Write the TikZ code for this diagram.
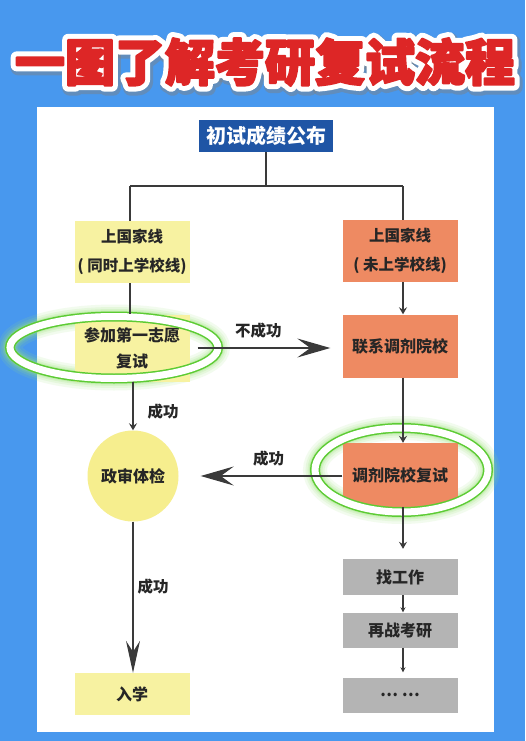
\documentclass[tikz,border=0pt]{standalone}
\usepackage{fontspec}
\newfontfamily\cjk{Noto Sans CJK SC}
\newfontfamily\titleout{Noto Sans CJK SC}[UprightFeatures={FakeBold=24}, BoldFeatures={FakeBold=24}]
\newfontfamily\titleshadow{Noto Sans CJK SC}[UprightFeatures={FakeBold=30}, BoldFeatures={FakeBold=30}]
\newfontfamily\titlein{Noto Sans CJK SC}[UprightFeatures={FakeBold=4}, BoldFeatures={FakeBold=4}]
\usetikzlibrary{arrows.meta,shapes.geometric}
\definecolor{bgblue}{HTML}{4898EE}
\definecolor{titlered}{HTML}{DD2626}
\definecolor{darkblue}{HTML}{1F55A5}
\definecolor{pyellow}{HTML}{F7F2A1}
\definecolor{cyellow}{HTML}{F6EE8E}
\definecolor{porange}{HTML}{EE8A62}
\definecolor{pgray}{HTML}{B4B4B4}
\definecolor{lineg}{HTML}{3A3A3A}
\definecolor{hgreen}{HTML}{5CCB33}
\definecolor{glowg}{HTML}{9BE57A}
\begin{document}
\begin{tikzpicture}[x=1pt,y=-1pt,
  txt/.style={font=\cjk\bfseries\fontsize{16}{28}\selectfont, text=black!85, align=center},
  ybox/.style={txt, fill=pyellow, minimum width=115pt, inner sep=0pt},
  obox/.style={txt, fill=porange, minimum width=115pt, inner sep=0pt},
  gbox/.style={txt, fill=pgray, minimum width=115pt, inner sep=0pt},
  conn/.style={draw=lineg, line width=1.1pt},
  small/.style={conn, -{Stealth[length=7pt,width=8pt,inset=2.5pt]}},
  bigh/.style={conn, -{Stealth[length=33pt,width=19pt,inset=13pt]}},
  bigv/.style={conn, -{Stealth[length=32pt,width=14pt,inset=11pt]}},
  lbl/.style={font=\cjk\bfseries\fontsize{15.5}{16}\selectfont, text=black!85},
  ttl/.style={inner sep=0pt}
]
\fill[bgblue] (0,0) rectangle (525,741);
\useasboundingbox (0,0) rectangle (525,741);
\fill[white] (37,107) rectangle (494,732);

% title
\begin{scope}[line join=round, line cap=round]
\node[ttl, font=\titleshadow\bfseries\fontsize{50}{50}\selectfont, text=black!50, opacity=0.45] (tshadow) at (266.5,64.5) {一图了解考研复试流程};
\node[ttl, font=\titleout\bfseries\fontsize{50}{50}\selectfont, text=white] (tout) at (265,62) {一图了解考研复试流程};
\node[ttl, font=\titlein\bfseries\fontsize{50}{50}\selectfont, text=titlered] (title) at (265,62) {一图了解考研复试流程};
\end{scope}

% highlight ellipses (glow)
\foreach \w/\o in {24/0.12,19/0.15,15/0.2,12/0.3}{
  \draw[glowg, line width=\w pt, opacity=\o] (114,347.5) ellipse [x radius=104, y radius=31];
  \draw[glowg, line width=\w pt, opacity=\o] (401.5,470) ellipse [x radius=86.5, y radius=42];
}

% nodes
\node[txt, font=\cjk\bfseries\fontsize{20}{24}\selectfont, fill=darkblue, text=white, minimum width=134pt, minimum height=32pt, inner sep=0pt] (top) at (266,136) {初试成绩公布};
\node[ybox, font=\cjk\bfseries\fontsize{15.5}{29}\selectfont, minimum height=62pt] (l1) at (132,252) {上国家线\\( 同时上学校线)};
\node[obox, font=\cjk\bfseries\fontsize{15.5}{29}\selectfont, minimum height=62pt] (r1) at (400,251) {上国家线\\( 未上学校线)};
\node[ybox, font=\cjk\bfseries\fontsize{16}{26}\selectfont, minimum height=67pt] (l2) at (132,348) {参加第一志愿\\复试};
\node[obox, minimum height=63pt] (r2) at (400,346) {联系调剂院校};
\node[obox, minimum height=64pt] (r3) at (400,475) {调剂院校复试};
\node[txt, circle, fill=cyellow, minimum size=91pt, inner sep=0pt] (c1) at (133,476) {政审体检};
\node[ybox, minimum height=42pt] (l4) at (132,694) {入学};
\node[gbox, minimum height=36pt] (g1) at (400,577) {找工作};
\node[gbox, minimum height=35pt] (g2) at (400,630) {再战考研};
\node[gbox, minimum height=35pt] (g3) at (400,695) {\raisebox{-2pt}{… …}};

\coordinate (jc) at (266,186);
\coordinate (jl) at (130,186);
\coordinate (jr) at (403,186);

% highlight ellipse rings
\draw[hgreen, line width=10pt] (114,347.5) ellipse [x radius=104, y radius=31];
\draw[white, line width=7pt] (114,347.5) ellipse [x radius=104, y radius=31];
\draw[hgreen, line width=10pt] (401.5,470) ellipse [x radius=86.5, y radius=42];
\draw[white, line width=7pt] (401.5,470) ellipse [x radius=86.5, y radius=42];

% connectors
\draw[conn] (top.south) -- (jc);
\draw[conn] (jl) -- (jr);
\draw[conn] (jl) -- (jl |- l1.north);
\draw[conn] (jr) -- (jr |- r1.north);
\draw[conn] (l1.south -| jl) -- (l2.north -| jl);
\draw[small] (r1.south -| jr) -- (r2.north -| jr);
\draw[small] (r2.south -| jr) -- (r3.north -| jr);
\draw[bigh, shorten <=8pt, shorten >=12pt] (l2.east) -- node[lbl, above=6pt, pos=0.45] (lb1) {不成功} (r2.west |- l2.east);
\draw[small] (l2.south -| c1) -- (c1.north);
\node[lbl] (lb2) at (163,412) {成功};
\draw[bigh, shorten >=22pt] (r3.west |- c1.east) -- node[lbl, above=6pt, pos=0.45] (lb3) {成功} (c1.east);
\draw[bigv] (c1.south) -- (l4.north -| c1);
\node[lbl] (lb4) at (153,587) {成功};
\draw[small, shorten >=10pt] (r3.south -| jr) -- (g1.north -| jr);
\draw[conn, -{Stealth[length=5pt,width=5pt]}] (g1.south -| jr) -- (g2.north -| jr);
\draw[conn, -{Stealth[length=5pt,width=5pt]}, shorten >=5pt] (g2.south -| jr) -- (g3.north -| jr);
\end{tikzpicture}
\end{document}
